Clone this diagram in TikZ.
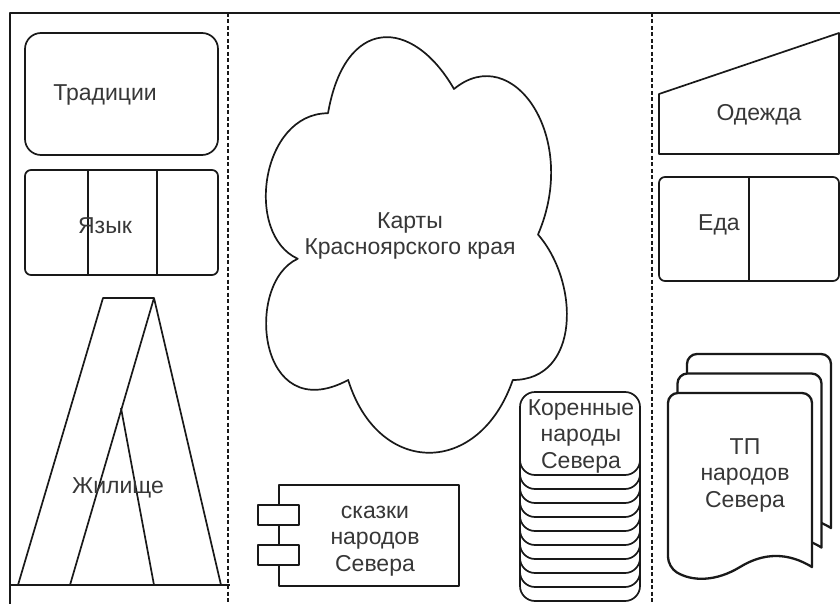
\documentclass[tikz,border=0pt]{standalone}
\usepackage{fontspec}
\setmainfont{Liberation Sans}
\usetikzlibrary{positioning}
\definecolor{inkgray}{RGB}{55,55,55}
\definecolor{linegray}{RGB}{25,25,25}

\begin{document}
\begin{tikzpicture}[x=1pt,y=-1pt,
  lbl/.style={font=\fontsize{23}{26.5}\selectfont, align=center, text=inkgray, inner sep=0pt},
  shp/.style={draw=linegray, line width=1.7pt, line join=round},
  sep/.style={draw=linegray, line width=1.2pt, dash pattern=on 4pt off 2.5pt}]
\useasboundingbox (0,0) rectangle (840,604);

\draw[shp] (10,604) -- (10,13) -- (840,13);
\draw[sep] (228,13) -- (228,604);
\draw[sep] (652,13) -- (652,604);

\draw[shp, rounded corners=16] (25,33) rectangle (218,155);
\node[lbl] (trad) at (105,95) {Традиции};

\draw[shp, rounded corners=6] (25,170) rectangle (218,275);
\foreach \x in {88,157}
\draw[shp] (\x,170) -- (\x,275);
\node[lbl] (yaz) at (105,226) {Язык};

\draw[shp] (10,585) -- (230,585);
\draw[shp] (18,585) -- (103,298) -- (154,298) -- (221,585);
\draw[shp] (70,585) -- (154,298);
\draw[shp] (121,408) -- (154,585);
\node[lbl] (zhil) at (118,488) {Жилище};

\begin{scope}[shift={(244,-8)}, x=336pt, y=-485pt]
\draw[shp, fill=white] (0.25,0.25) .. controls (0.05,0.25) and (0,0.5) .. (0.16,0.55)
  .. controls (0,0.6) and (0.04,0.9) .. (0.31,0.8)
  .. controls (0.4,1) and (0.7,1) .. (0.8,0.8)
  .. controls (1,0.8) and (1,0.6) .. (0.875,0.5)
  .. controls (1,0.3) and (0.8,0.1) .. (0.625,0.2)
  .. controls (0.5,0.05) and (0.3,0.05) .. (0.25,0.25) -- cycle;
\end{scope}
\node[lbl] (karty) at (410,236) {Карты\\Красноярского края};

\draw[shp] (279,485) rectangle (459,586);
\foreach \y in {505,545}
\draw[shp, fill=white] (258,\y) rectangle (299,{\y+20});
\node[lbl] (skazki) at (375,541) {сказки\\народов\\Севера};

\foreach \k in {9,...,0}
\draw[shp, fill=white, rounded corners=15] (520,{392+14*\k}) rectangle (640,{475+14*\k});
\node[lbl] (koren) at (581,436) {Коренные\\народы\\Севера};

\draw[shp] (659,154) -- (659,94) -- (839,33) -- (839,154) -- cycle;
\node[lbl] (odezh) at (759,115) {Одежда};

\draw[shp, rounded corners=6] (659,177) rectangle (839,281);
\draw[shp] (749,177) -- (749,281);
\node[lbl] (eda) at (719,225) {Еда};

\foreach \i in {2,1,0}
\draw[shp, line width=2.3pt, fill=white, shift={({9.5*\i},{-19.5*\i})}]
  (812,567) [rounded corners=10] -- (812,393) -- (668,393) -- (668,567) [sharp corners]
  .. controls (692,581.7) and (716,581.7) .. (740,567)
  .. controls (764,552.3) and (788,552.3) .. (812,567) -- cycle;
\node[lbl] (tp) at (745,475) {ТП\\народов\\Севера};
\end{tikzpicture}
\end{document}
